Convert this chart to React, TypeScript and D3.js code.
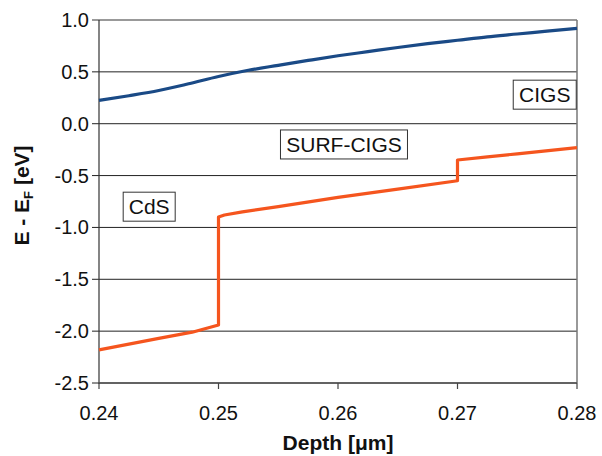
import React from "react";
import * as d3 from "d3";

const xTicks = [0.24, 0.25, 0.26, 0.27, 0.28];
const yTicks = [-2.5, -2.0, -1.5, -1.0, -0.5, 0.0, 0.5, 1.0];

const vbDepth = [0.24, 0.2425, 0.245, 0.2475, 0.25, 0.2525, 0.255, 0.2575, 0.26, 0.2625, 0.265, 0.2675, 0.27, 0.2725, 0.275, 0.2775, 0.28];
const vbEnergy = [0.225, 0.27, 0.32, 0.385, 0.455, 0.515, 0.563, 0.61, 0.655, 0.695, 0.735, 0.772, 0.805, 0.838, 0.865, 0.893, 0.92];

const cbDepth = [0.24, 0.245, 0.2478, 0.25, 0.25, 0.2505, 0.252, 0.255, 0.26, 0.265, 0.27, 0.27, 0.2725, 0.275, 0.28];
const cbEnergy = [-2.18, -2.07, -2.01, -1.94, -0.9, -0.88, -0.85, -0.8, -0.71, -0.63, -0.55, -0.35, -0.32, -0.29, -0.23];

const labels = ["CIGS", "SURF-CIGS", "CdS"];
const labelPos = [
  { x: 0.2773, y: 0.28 },
  { x: 0.2605, y: -0.2 },
  { x: 0.2442, y: -0.8 },
];

export default function App() {
  const W = 602, H = 456;
  const left = 99, right = 577, top = 20, bottom = 383;
  const x = d3.scaleLinear().domain([0.24, 0.28]).range([left, right]);
  const y = d3.scaleLinear().domain([-2.5, 1.0]).range([bottom, top]);
  const line = d3.line<[number, number]>().x(d => x(d[0])).y(d => y(d[1]));
  const smooth = d3.line<[number, number]>().x(d => x(d[0])).y(d => y(d[1])).curve(d3.curveMonotoneX);
  const vb = smooth(vbDepth.map((d, i) => [d, vbEnergy[i]]) as [number, number][]) || "";
  const cb = line(cbDepth.map((d, i) => [d, cbEnergy[i]]) as [number, number][]) || "";
  const font = "Liberation Sans, Arial, Helvetica, sans-serif";
  const charW: Record<string, number> = { CIGS: 52, "SURF-CIGS": 116, CdS: 41 };

  return (
    <svg width={W} height={H} style={{ position: "absolute", left: 0, top: 0, background: "#fff" }} fontFamily={font}>
      {yTicks.map(t => (
        <line key={"g" + t} x1={left - 7} x2={right} y1={y(t)} y2={y(t)} stroke={t === 1.0 ? "#777" : "#222"} strokeWidth={t === 1.0 ? 1.5 : 1} />
      ))}
      <line x1={right} x2={right} y1={top} y2={bottom} stroke="#777" strokeWidth={1.5} />
      <line x1={left} x2={left} y1={top} y2={bottom + 1} stroke="#333" strokeWidth={1.2} />
      <line x1={left} x2={right} y1={bottom} y2={bottom} stroke="#555" strokeWidth={1.5} />
      {xTicks.map(t => (
        <g key={"x" + t}>
          <line x1={x(t)} x2={x(t)} y1={bottom} y2={bottom + 6} stroke="#444" strokeWidth={1.2} />
          <text x={x(t)} y={420} fontSize={20} textAnchor="middle" fill="#111">{t.toFixed(2)}</text>
        </g>
      ))}
      {yTicks.map(t => (
        <text key={"yl" + t} x={89} y={y(t) + 7} fontSize={20} textAnchor="end" fill="#111">{t.toFixed(1)}</text>
      ))}
      <path d={vb} fill="none" stroke="#1a4a86" strokeWidth={3.2} strokeLinejoin="round" />
      <path d={cb} fill="none" stroke="#f5551e" strokeWidth={3.2} strokeLinejoin="round" />
      {labels.map((l, i) => {
        const cx = x(labelPos[i].x), cy = y(labelPos[i].y);
        const w = charW[l] + 11;
        return (
          <g key={l}>
            <rect x={cx - w / 2} y={cy - 14.5} width={w} height={29} fill="#fff" stroke="#333" strokeWidth={1} />
            <text x={cx} y={cy + 7.5} fontSize={21} textAnchor="middle" fill="#111">{l}</text>
          </g>
        );
      })}
      <text x={338} y={450} fontSize={21} fontWeight="bold" textAnchor="middle" fill="#111">Depth [μm]</text>
      <text transform={`translate(29,${(top + bottom) / 2 - 6}) rotate(-90)`} fontSize={21} fontWeight="bold" textAnchor="middle" fill="#111">
        E - E<tspan fontSize={13} dy={4}>F</tspan><tspan dy={-4}> [eV]</tspan>
      </text>
    </svg>
  );
}
